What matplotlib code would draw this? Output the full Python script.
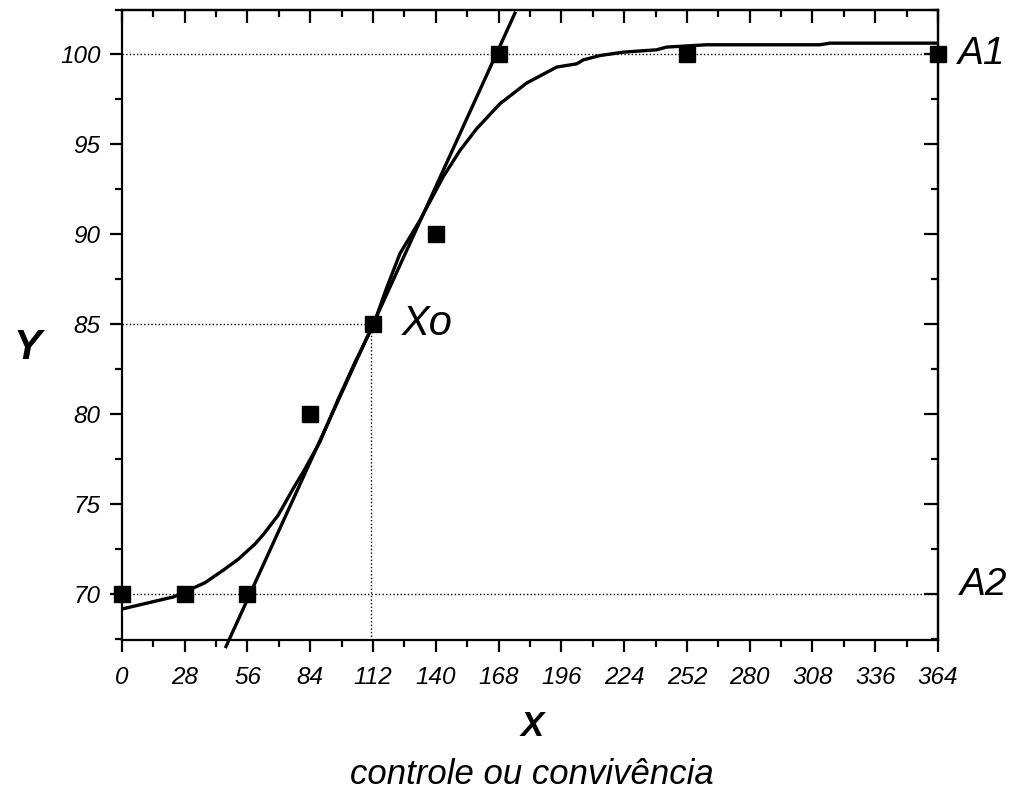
import numpy as np
import matplotlib
matplotlib.use("Agg")
import matplotlib.pyplot as plt
from matplotlib.ticker import MultipleLocator

plt.rcParams["font.family"] = ["Liberation Sans", "DejaVu Sans"]

# ----- data -----
obs_x = [0, 28, 56, 84, 112, 140, 168, 252, 364]
obs_y = [70, 70, 70, 80, 85, 90, 100, 100, 100]

# fitted sigmoid as drawn (read point by point)
fit_x = [0, 23.2, 28.1, 37, 45.2, 51.9, 59.3, 63.0, 69.7, 76.4, 80.9, 88.3,
         96.5, 104, 112.1, 118, 124, 132.9, 143.3, 150.8, 158.2, 168.6,
         180.5, 193.9, 202.8, 205.8, 213.2, 223.6, 238.5, 242.9, 260.8,
         311.3, 315.8, 364]
fit_y = [69.17, 69.85, 70.13, 70.63, 71.33, 71.94, 72.78, 73.3, 74.39, 75.87,
         76.8, 78.46, 80.85, 82.9, 84.94, 87.0, 88.93, 90.78, 93.2, 94.67,
         95.87, 97.26, 98.41, 99.3, 99.48, 99.7, 99.94, 100.13, 100.26,
         100.41, 100.54, 100.54, 100.63, 100.63]

# tangent through the inflection point
tangent_x = [46.4, 175.3]
tangent_y = [67.08, 102.3]

A1, A2 = 100, 70
X0, Y0 = 111, 85

x_ticks = np.arange(0, 365, 28)
y_ticks = [70, 75, 80, 85, 90, 95, 100]
XLIM = (0, 364)
YLIM = (67.45, 102.5)

# ----- figure -----
fig = plt.figure(figsize=(10.18, 7.93), dpi=100)
ax = fig.add_axes([0.1198, 0.193, 0.8016, 0.795])

dot = dict(color="black", lw=1.0, linestyle=(0, (1, 1.6)), zorder=1)
ax.plot(XLIM, [A1, A1], **dot)
ax.plot(XLIM, [A2, A2], **dot)
ax.plot([0, X0], [Y0, Y0], **dot)
ax.plot([X0, X0], [YLIM[0], Y0], **dot)

ax.plot(fit_x, fit_y, color="black", lw=2.4, zorder=2)
ax.plot(tangent_x, tangent_y, color="black", lw=2.4, zorder=2,
        clip_on=False)
ax.plot(obs_x, obs_y, "s", color="black", ms=11, zorder=3, clip_on=False)

ax.set_xlim(*XLIM)
ax.set_ylim(*YLIM)
ax.set_xticks(x_ticks)
ax.set_yticks(y_ticks)
ax.xaxis.set_minor_locator(MultipleLocator(14))
ax.yaxis.set_minor_locator(MultipleLocator(2.5))

for s in ax.spines.values():
    s.set_linewidth(1.6)

ax.tick_params(which="both", direction="out", width=1.6,
               top=False, right=False)
ax.tick_params(which="major", length=8.5)
ax.tick_params(which="minor", length=5)
ax.tick_params(axis="x", pad=10)
ax.tick_params(axis="y", pad=7)

# inward ticks on top and right
sec_x = ax.secondary_xaxis("top")
sec_x.set_xticks(x_ticks, labels=[])
sec_x.xaxis.set_minor_locator(MultipleLocator(14))
sec_x.tick_params(which="both", direction="in", width=1.6)
sec_x.tick_params(which="major", length=9.5)
sec_x.tick_params(which="minor", length=5)
sec_y = ax.secondary_yaxis("right")
sec_y.set_yticks(y_ticks, labels=[])
sec_y.yaxis.set_minor_locator(MultipleLocator(2.5))
sec_y.tick_params(which="both", direction="in", width=1.6)
sec_y.tick_params(which="major", length=10)
sec_y.tick_params(which="minor", length=5)
for s in list(sec_x.spines.values()) + list(sec_y.spines.values()):
    s.set_linewidth(1.6)

for lab in ax.get_xticklabels() + ax.get_yticklabels():
    lab.set_fontsize(17.5)
    lab.set_fontstyle("italic")

ax.text(125, Y0, "Xo", fontsize=30, style="italic", va="center", ha="left")
ax.text(373, A1, "A1", fontsize=28, style="italic", va="center", ha="left",
        clip_on=False)
ax.text(374, A2 + 0.5, "A2", fontsize=28, style="italic", va="center",
        ha="left", clip_on=False)

fig.text(27 / 1018, 1 - 348 / 793, "Y", fontsize=30, fontweight="bold",
         style="italic", ha="center", va="center")
fig.text(532 / 1018, 1 - 726 / 793, "X", fontsize=25, fontweight="bold",
         style="italic", ha="center", va="center")
fig.text(532 / 1018, 1 - 774 / 793, "controle ou convivência", fontsize=25,
         style="italic", ha="center", va="center")

fig.savefig("out.png", dpi=100)
